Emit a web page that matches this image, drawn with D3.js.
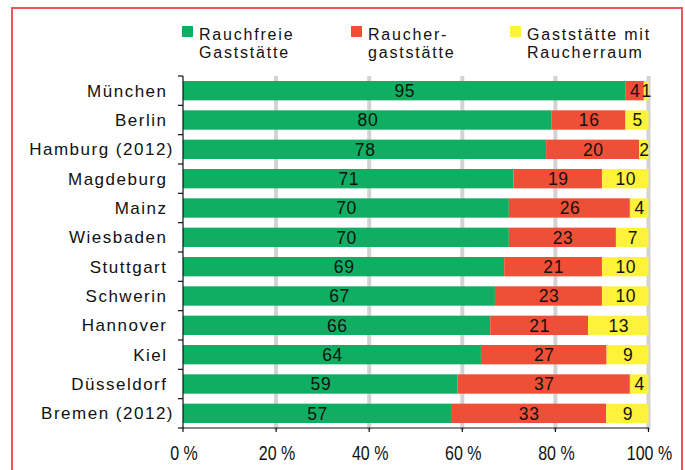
<!DOCTYPE html>
<html>
<head>
<meta charset="utf-8">
<script src="https://cdn.jsdelivr.net/npm/d3@7"></script>
<style>
  html, body { margin: 0; padding: 0; background: #ffffff; }
  svg { display: block; }
</style>
</head>
<body>
<svg id="chart" width="685" height="470"></svg>
<script>
// ---- data ----
const cities = ["München", "Berlin", "Hamburg (2012)", "Magdeburg", "Mainz", "Wiesbaden",
  "Stuttgart", "Schwerin", "Hannover", "Kiel", "Düsseldorf", "Bremen (2012)"];
const rauchfrei = [95, 80, 78, 71, 70, 70, 69, 67, 66, 64, 59, 57];
const raucher   = [4, 16, 20, 19, 26, 23, 21, 23, 21, 27, 37, 33];
const raum      = [1, 5, 2, 10, 4, 7, 10, 10, 13, 9, 4, 9];
const seriesNames = ["Rauchfreie\nGaststätte", "Raucher-\ngaststätte", "Gaststätte mit\nRaucherraum"];
const tickValues = [0, 20, 40, 60, 80, 100];
const tickLabels = ["0 %", "20 %", "40 %", "60 %", "80 %", "100 %"];

const colors = ["#0fae62", "#f04f37", "#fff23a"];
const keys = ["a", "b", "c"];
const rows = cities.map((c, i) => ({ city: c, a: rauchfrei[i], b: raucher[i], c: raum[i] }));

const svg = d3.select("#chart");
svg.append("rect").attr("width", 685).attr("height", 470).attr("fill", "#fff");

// frame
svg.append("path")
  .attr("d", "M12,480 V8 H682 V480")
  .attr("fill", "none").attr("stroke", "#ee5660").attr("stroke-width", 2);

const x = d3.scaleLinear().domain([0, 1]).range([183, 648.5]);
const y = d3.scaleBand().domain(cities).range([76, 428]).paddingInner(0.34).paddingOuter(0.17);

const stack = d3.stack().keys(keys).offset(d3.stackOffsetExpand);
const series = stack(rows);

// grid lines
svg.append("g").selectAll("line").data(tickValues.slice(1)).join("line")
  .attr("x1", d => x(d / 100)).attr("x2", d => x(d / 100))
  .attr("y1", 76).attr("y2", 430)
  .attr("stroke", "#d3d3d3").attr("stroke-width", 4);

// bars
const g = svg.append("g");
series.forEach((s, si) => {
  g.append("g").attr("fill", colors[si]).selectAll("rect").data(s).join("rect")
    .attr("x", d => x(d[0]))
    .attr("width", d => x(d[1]) - x(d[0]))
    .attr("y", d => y(d.data.city))
    .attr("height", y.bandwidth());
});

// value labels
const lbl = svg.append("g")
  .attr("font-family", "'Liberation Sans', Arial, sans-serif")
  .attr("font-size", 17.5).attr("fill", "#111").attr("text-anchor", "middle")
  .style("letter-spacing", "0.6px");
series.forEach((s, si) => {
  lbl.selectAll(null).data(s).join("text")
    .attr("x", d => (x(d[0]) + x(d[1])) / 2 + 0.6)
    .attr("y", d => y(d.data.city) + y.bandwidth() / 2 + 6.3)
    .text(d => d.data[keys[si]]);
});

// y axis
const yAxis = svg.append("g").attr("stroke", "#111").attr("stroke-width", 1.2);
yAxis.append("line").attr("x1", 183).attr("x2", 183).attr("y1", 76).attr("y2", 428.5);
const bounds = cities.map(c => y(c) - y.step() * y.paddingInner() / 2).concat([428]);
yAxis.selectAll(null).data(bounds).join("line")
  .attr("x1", 178).attr("x2", 183).attr("y1", d => d).attr("y2", d => d);

// x axis
const xAxis = svg.append("g").attr("stroke", "#111").attr("stroke-width", 1.2);
xAxis.append("line").attr("x1", 183).attr("x2", 649).attr("y1", 428).attr("y2", 428);
xAxis.selectAll(null).data(tickValues).join("line")
  .attr("x1", d => x(d / 100)).attr("x2", d => x(d / 100)).attr("y1", 428).attr("y2", 432);

svg.append("g")
  .attr("font-family", "'Liberation Sans', Arial, sans-serif")
  .attr("font-size", 20).attr("fill", "#111").attr("text-anchor", "middle")
  .selectAll("text").data(tickValues).join("text")
  .attr("transform", d => `translate(${x(d / 100) + 1},459.5) scale(0.8,1)`)
  .text((d, i) => tickLabels[i]);

// category labels
svg.append("g")
  .attr("font-family", "'Liberation Sans', Arial, sans-serif")
  .attr("font-size", 17).attr("fill", "#111").attr("text-anchor", "end")
  .style("letter-spacing", "1.5px")
  .selectAll("text").data(cities).join("text")
  .attr("x", d => /\)$/.test(d) ? 174 : 167.5)
  .attr("y", d => y(d) + y.bandwidth() / 2 + 6)
  .text(d => d);

// legend
const legX = [182, 351, 510];
const leg = svg.append("g");
seriesNames.forEach((name, i) => {
  leg.append("rect").attr("x", legX[i]).attr("y", 26).attr("width", 11).attr("height", 11).attr("fill", colors[i]);
  const t = leg.append("text")
    .attr("font-family", "'Liberation Sans', Arial, sans-serif")
    .attr("font-size", 16).attr("fill", "#111")
    .style("letter-spacing", "1.8px");
  name.split("\n").forEach((line, li) => {
    t.append("tspan").attr("x", legX[i] + 17).attr("y", 39.5 + li * 18.7).text(line);
  });
});
</script>
</body>
</html>
